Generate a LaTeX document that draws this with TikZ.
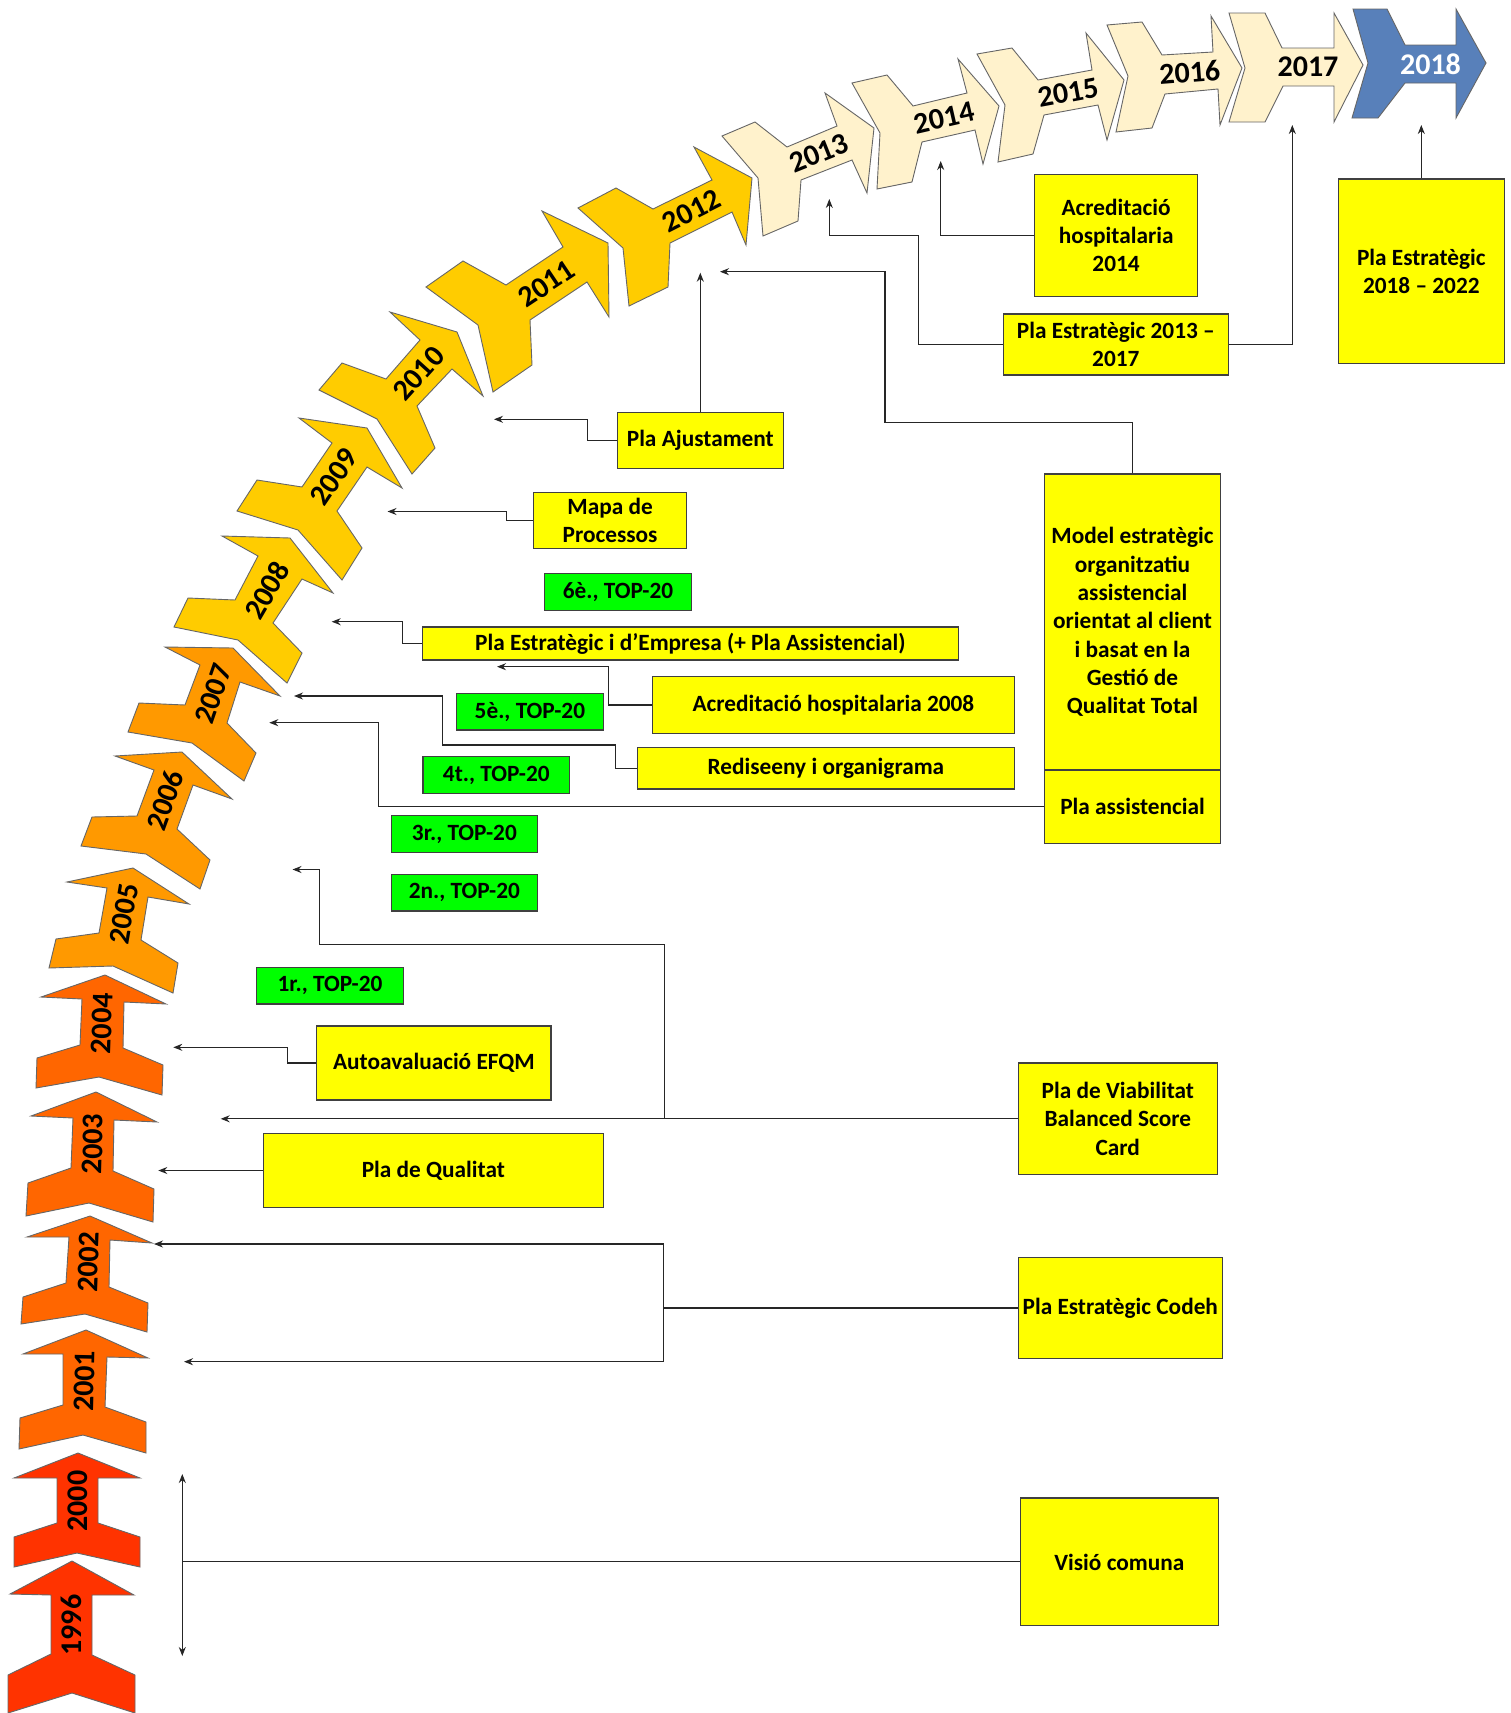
\documentclass[tikz,border=0pt]{standalone}
\usepackage{fontspec}
\setmainfont{Carlito}
\usetikzlibrary{arrows.meta, calc}
\definecolor{yrA}{HTML}{FF3300}
\definecolor{yrB}{HTML}{FF6600}
\definecolor{yrC}{HTML}{FF9900}
\definecolor{yrD}{HTML}{FFCC00}
\definecolor{yrE}{HTML}{FFF2CC}
\definecolor{yrF}{HTML}{5880BA}
\definecolor{boxyellow}{HTML}{FFFF00}
\definecolor{boxgreen}{HTML}{00FF00}
\begin{document}
\begin{tikzpicture}[x=1pt, y=-1pt,
  font=\bfseries\fontsize{23.3}{28.3}\selectfont, >={Stealth[length=9pt, width=7pt]},
  yrshape/.style={draw=black!60, line width=0.9pt, line join=miter},
  yrtext/.style={font=\bfseries\fontsize{30}{34}\selectfont, inner sep=0pt},
  pla/.style={draw=black!75, line width=1.2pt, fill=boxyellow, align=center, inner sep=0pt},
  rank/.style={draw=black!75, line width=1.2pt, fill=boxgreen, inner sep=0pt,
               minimum width=146.6pt, minimum height=36.6pt},
  conn/.style={draw=black!85, line width=1.1pt, ->},
  lin/.style={draw=black!85, line width=1.1pt},
]
  \fill[white] (0,0) rectangle (1510,1713);
  \useasboundingbox (0,0) rectangle (1510,1713);
  % fletxes dels anys: color / angle del text / centre del text / contorn
  \foreach \yr/\ycol/\ytc/\yang/\yx/\yy/\yshape in {%
    1996/yrA/black/90/71.5/1625/{(8,1713) -- (8,1675) -- (51,1654) -- (51,1595) -- (10,1594) -- (72,1561) -- (134,1595) -- (92,1595) -- (92,1655) -- (135,1675) -- (135,1713) -- (72,1693)},%
    2000/yrA/black/90/77.5/1501/{(14,1567) -- (14,1537) -- (57,1523) -- (57,1478) -- (14,1478) -- (78,1453) -- (140,1478) -- (98,1478) -- (98,1523) -- (140,1537) -- (140,1567) -- (77,1553)},%
    2001/yrB/black/88.7/84.4/1381/{(19,1449) -- (20,1418) -- (63,1405) -- (63,1354) -- (23,1354) -- (86,1330) -- (148,1358) -- (107,1357) -- (105,1407) -- (146,1422) -- (146,1453) -- (83,1435)},%
    2002/yrB/black/87.7/88.6/1262/{(21,1324) -- (23,1297) -- (66,1283) -- (69,1237) -- (27,1237) -- (90,1216) -- (152,1243) -- (110,1240) -- (109,1287) -- (148,1303) -- (147,1332) -- (85,1314)},%
    2003/yrB/black/88.5/92.8/1144/{(26,1216) -- (28,1183) -- (71,1168) -- (73,1118) -- (31,1116) -- (96,1092) -- (157,1122) -- (114,1120) -- (113,1171) -- (154,1189) -- (153,1222) -- (89,1203)},%
    2004/yrB/black/88.1/102.1/1023.5/{(36,1088) -- (37,1058) -- (80,1045) -- (82,999) -- (41,997) -- (105,975) -- (166,1004) -- (124,1002) -- (123,1048) -- (163,1065) -- (162,1095) -- (99,1077)},%
    2005/yrC/black/80.1/124/914/{(49,968) -- (56,939) -- (99,933) -- (107,888) -- (67,882) -- (133,868) -- (189,904) -- (148,897) -- (141,940) -- (178,963) -- (173,993) -- (113,966)},%
    2006/yrC/black/69.8/165/800/{(81,846) -- (92,817) -- (137,816) -- (154,770) -- (115,756) -- (182,752) -- (232,799) -- (193,785) -- (177,829) -- (210,860) -- (200,889) -- (146,854)},%
    2007/yrC/black/70.9/213/694/{(128,732) -- (139,703) -- (185,705) -- (200,665) -- (165,647) -- (233,648) -- (280,696) -- (240,682) -- (227,723) -- (256,753) -- (244,781) -- (192,743)},%
    2008/yrD/black/59.7/267/590/{(174,627) -- (188,598) -- (235,600) -- (258,556) -- (222,536) -- (290,538) -- (333,593) -- (302,579) -- (273,623) -- (302,653) -- (287,683) -- (238,640)},%
    2009/yrD/black/55.8/334/477/{(237,511) -- (257,480) -- (302,487) -- (332,443) -- (299,418) -- (367,428) -- (402,488) -- (367,467) -- (337,511) -- (362,548) -- (342,580) -- (298,530)},%
    2010/yrD/black/47.9/418.6/373.6/{(319,390) -- (342,363) -- (386,379) -- (420,340) -- (390,312) -- (457,332) -- (483,396) -- (452,369) -- (417,406) -- (435,448) -- (412,474) -- (377,419)},%
    2011/yrD/black/33.7/546.5/283.5/{(426,287) -- (463,261) -- (506,285) -- (563,247) -- (542,211) -- (608,243) -- (609,317) -- (587,282) -- (530,320) -- (532,365) -- (493,392) -- (478,325)},%
    2012/yrD/black/26.9/691.7/211/{(578,208) -- (616,188) -- (653,209) -- (712,180) -- (694,147) -- (752,178) -- (746,245) -- (732,212) -- (670,243) -- (668,287) -- (629,306) -- (623,248)},%
    2013/yrE/black/21.8/819/153/{(722,136) -- (755,122) -- (787,147) -- (837,126) -- (825,93) -- (874,128) -- (867,193) -- (852,160) -- (801,180) -- (798,221) -- (763,236) -- (758,178)},%
    2014/yrE/black/12.8/944/117.8/{(852,83) -- (887,75) -- (913,106) -- (967,93) -- (958,59) -- (999,106) -- (983,164) -- (975,130) -- (922,142) -- (912,182) -- (877,189) -- (880,133)},%
    2015/yrE/black/10.5/1068/92.5/{(977,54) -- (1012,48) -- (1038,80) -- (1092,70) -- (1086,33) -- (1124,80) -- (1107,140) -- (1098,105) -- (1044,115) -- (1033,154) -- (998,162) -- (1005,105)},%
    2016/yrE/black/4.4/1189.7/72.5/{(1107,25) -- (1142,22) -- (1162,55) -- (1213,52) -- (1211,16) -- (1242,68) -- (1220,125) -- (1218,89) -- (1165,94) -- (1152,128) -- (1116,132) -- (1128,76)},%
    2017/yrE/black/0/1308/66.7/{(1229,13) -- (1265,13) -- (1282,48) -- (1334,48) -- (1334,13) -- (1363,65) -- (1334,122) -- (1334,86) -- (1283,86) -- (1265,122) -- (1229,122) -- (1245,68)},%
    2018/yrF/white/0/1430.5/64/{(1353,9) -- (1387,9) -- (1405,45) -- (1456,45) -- (1456,9) -- (1486,63) -- (1456,118) -- (1456,83) -- (1405,83) -- (1378,118) -- (1352,118) -- (1368,63)}%
  } {
    \draw[yrshape, fill=\ycol] \yshape -- cycle;
    \node[yrtext, text=\ytc, rotate=\yang] (y\yr) at (\yx,\yy) {\yr};
  }

  % caixes
  \node[pla, minimum width=162.8pt, minimum height=121.3pt] (acr14) at (1116.1,235.5) {Acreditació\\hospitalaria\\2014};
  \node[pla, minimum width=166pt, minimum height=184.3pt] (pe18) at (1421.3,271.2) {Pla Estratègic\\2018 – 2022};
  \node[pla, minimum width=225pt, minimum height=61pt] (pe13) at (1115.8,344.5) {Pla Estratègic 2013 –\\2017};
  \node[pla, minimum width=166.3pt, minimum height=56pt] (ajust) at (700.3,440.3) {Pla Ajustament};
  \node[pla, minimum width=152.6pt, minimum height=55.6pt] (mapa) at (610.1,520.5) {Mapa de\\Processos};
  \node[rank] (top6) at (618,592) {6è., TOP-20};
  \node[pla, minimum width=536pt, minimum height=33pt] (peemp) at (690.3,643.5) {Pla Estratègic i d’Empresa (+ Pla Assistencial)};
  \node[pla, minimum width=361.9pt, minimum height=56.6pt] (acr08) at (833.4,705) {Acreditació hospitalaria 2008};
  \node[rank] (top5) at (529.9,711.7) {5è., TOP-20};
  \node[pla, minimum width=376.8pt, minimum height=41.7pt] (redis) at (825.9,768.2) {Rediseeny i organigrama};
  \node[rank] (top4) at (496.3,775) {4t., TOP-20};
  \node[pla, minimum width=176.4pt, minimum height=296pt] (model) at (1132.5,622) {Model estratègic\\organitzatiu\\assistencial\\orientat al client\\i basat en la\\Gestió de\\Qualitat Total};
  \node[pla, minimum width=176.4pt, minimum height=73.3pt] (plaass) at (1132.5,806.7) {Pla assistencial};
  \node[rank] (top3) at (464.4,834) {3r., TOP-20};
  \node[rank] (top2) at (464.4,892.7) {2n., TOP-20};
  \node[rank] (top1) at (330,985.7) {1r., TOP-20};
  \node[pla, minimum width=234.3pt, minimum height=74pt] (efqm) at (433.9,1063) {Autoavaluació EFQM};
  \node[pla, minimum width=198.9pt, minimum height=111.5pt] (viab) at (1117.8,1118.8) {Pla de Viabilitat\\Balanced Score\\Card};
  \node[pla, minimum width=340pt, minimum height=74.4pt] (qual) at (433.3,1170.5) {Pla de Qualitat};
  \node[pla, minimum width=203.9pt, minimum height=100.6pt] (codeh) at (1120.3,1308) {Pla Estratègic Codeh};
  \node[pla, minimum width=197.8pt, minimum height=127.8pt] (visio) at (1119.4,1561.9) {Visió comuna};

  % punts d'arribada a les fletxes
  \coordinate (t1996) at (182.3,1656);
  \coordinate (t2000) at (182.3,1474);
  \coordinate (t2001) at (184,1361.7);
  \coordinate (t2002) at (154,1244);
  \coordinate (t2003a) at (220.7,1118.8);
  \coordinate (t2003b) at (158.3,1170.5);
  \coordinate (t2004) at (173.3,1047.3);
  \coordinate (t2005) at (292.5,869.5);
  \coordinate (t2007a) at (294,696);
  \coordinate (t2007b) at (269.3,722.7);
  \coordinate (t2008a) at (331.7,621.7);
  \coordinate (t2008b) at (497,666.7);
  \coordinate (t2009) at (387.5,511.5);
  \coordinate (t2010) at (494,419.3);
  \coordinate (t2012a) at (700.3,272.7);
  \coordinate (t2012b) at (720,271.7);
  \coordinate (t2013) at (829.3,199);
  \coordinate (t2014) at (940.7,161);
  \coordinate (t2017) at (1292.3,125);
  \coordinate (t2018) at (1421.3,125);
  \coordinate (jviab) at (664.5,1118.8);
  \coordinate (jcodeh) at (663.5,1308);

  % connectors
  \draw[lin] (visio.west) -- (t2000 |- visio.west);
  \draw[conn, <->] (t2000) -- (t1996);
  \draw[lin] (codeh.west) -- (jcodeh);
  \draw[conn] (jcodeh) |- (t2002);
  \draw[conn] (jcodeh) |- (t2001);
  \draw[conn] (qual.west) -- (t2003b);
  \draw[conn] (viab.west) -- (t2003a);
  \draw[conn] (jviab) |- (319.3,944.3) |- (t2005);
  \draw[conn] (efqm.west) -- ++(-28.4,0) |- (t2004);
  \draw[conn] (plaass.west) -| (378.3,722.7) -- (t2007b);
  \draw[conn] (redis.west) -- ++(-21.2,0) |- (442.7,745) |- (t2007a);
  \draw[conn] (acr08.west) -- ++(-43.1,0) |- (t2008b);
  \draw[conn] (peemp.west) -- ++(-19,0) |- (t2008a);
  \draw[conn] (mapa.west) -- ++(-27,0) |- (t2009);
  \draw[conn] (ajust.west) -- ++(-28.8,0) |- (t2010);
  \draw[conn] (ajust.north) -- (t2012a);
  \draw[conn] (model.north) |- (885,422.8) |- (t2012b);
  \draw[conn] (pe13.west) -| (918.3,235.5) -| (t2013);
  \draw[conn] (pe13.east) -| (t2017);
  \draw[conn] (acr14.west) -| (t2014);
  \draw[conn] (pe18.north) -- (t2018);
\end{tikzpicture}
\end{document}
